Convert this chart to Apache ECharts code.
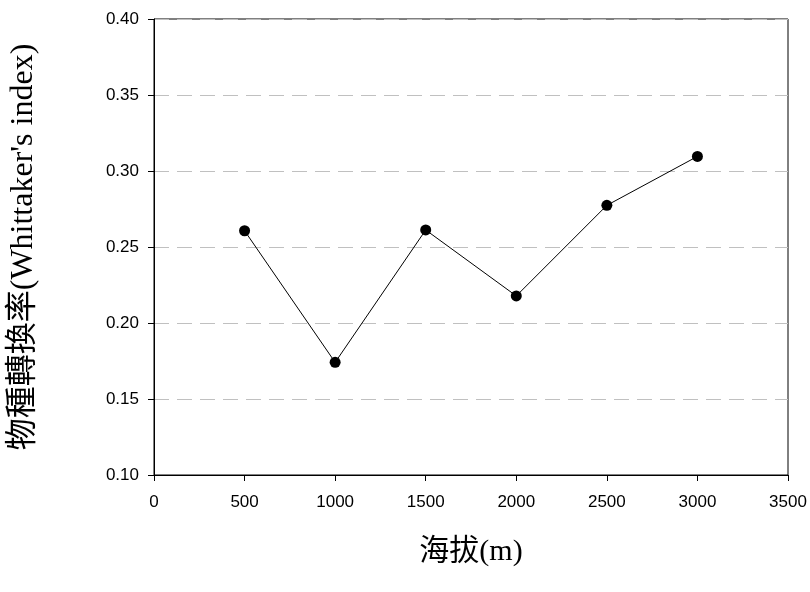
<!DOCTYPE html>
<html>
<head>
<meta charset="utf-8">
<script src="https://cdn.jsdelivr.net/npm/echarts@6/dist/echarts.min.js"></script>
<style>html,body{margin:0;padding:0;background:#fff;}#c{width:810px;height:592px;}</style>
</head>
<body>
<div id="c"></div>
<script>
const elevations = [500, 1000, 1500, 2000, 2500, 3000];
const whittaker = [0.2607, 0.1741, 0.2612, 0.2178, 0.2774, 0.3096];
const xTitle = '海拔(m)';
const yTitle = '物種轉換率(Whittaker\'s index)';

const chart = echarts.init(document.getElementById('c'), null, {renderer: 'canvas'});
const tickFont = {fontFamily: 'Liberation Sans, Arial, sans-serif', fontSize: 17, color: '#000'};
const titleFamily = 'Liberation Serif, Noto Sans CJK TC, serif';
chart.setOption({
  animation: false,
  backgroundColor: '#fff',
  grid: {left: 153, right: 22, top: 19, bottom: 117, show: true, borderColor: '#000', borderWidth: 1},
  xAxis: {
    type: 'value', min: 0, max: 3500, interval: 500,
    name: xTitle, nameLocation: 'middle', nameGap: 62,
    nameTextStyle: {fontFamily: titleFamily, fontSize: 30, color: '#000'},
    axisLine: {show: true, lineStyle: {color: '#000', width: 1}},
    axisTick: {show: true, inside: false, length: 6, lineStyle: {color: '#000'}},
    axisLabel: Object.assign({margin: 19, formatter: v => String(v)}, tickFont),
    splitLine: {show: false}
  },
  yAxis: {
    type: 'value', min: 0.10, max: 0.40, interval: 0.05,
    name: yTitle, nameLocation: 'middle', nameGap: 114, nameRotate: 90,
    nameTextStyle: {fontFamily: titleFamily, fontSize: 32, color: '#000'},
    axisLine: {show: true, lineStyle: {color: '#000', width: 1}},
    axisTick: {show: true, inside: false, length: 6, lineStyle: {color: '#000'}},
    axisLabel: Object.assign({margin: 15, formatter: v => v.toFixed(2)}, tickFont),
    splitLine: {show: true, lineStyle: {color: '#c0c0c0', width: 1, type: [15, 8]}}
  },
  series: [{
    type: 'line',
    data: elevations.map((x, i) => [x, whittaker[i]]),
    symbol: 'circle', symbolSize: 11,
    itemStyle: {color: '#000'},
    lineStyle: {color: '#000', width: 1}
  }]
});
</script>
</body>
</html>
